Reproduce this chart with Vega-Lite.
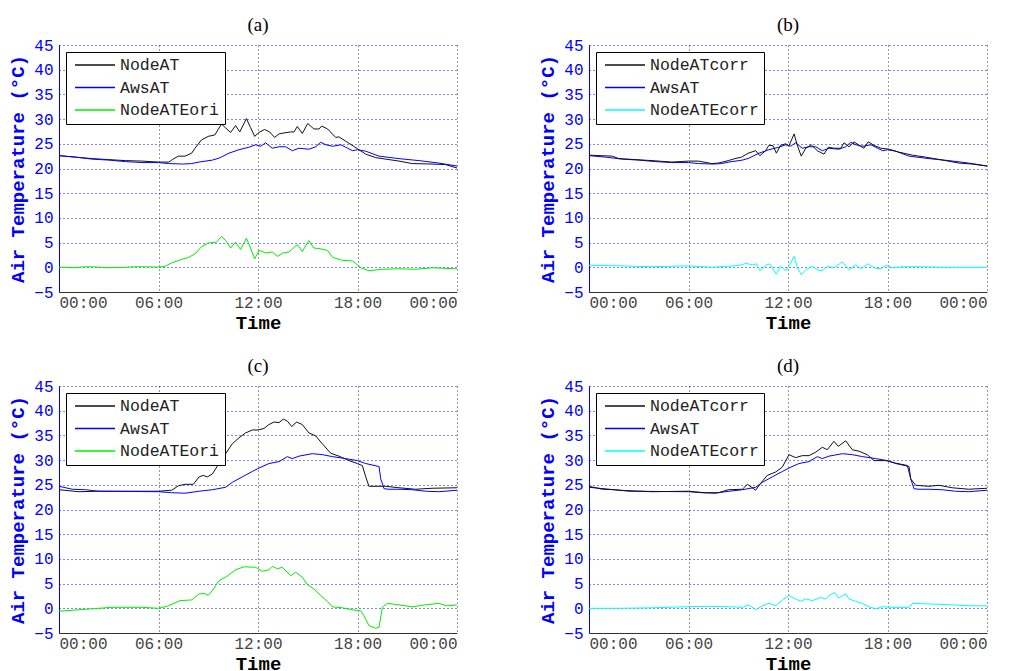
{
"$schema": "https://vega.github.io/schema/vega-lite/v6.json",
"padding": {"left": 8, "top": 16, "right": 0, "bottom": 0},
"datasets": {"t": [
{"p":"a","s":"NodeAT","h":0,"v":22.6},{"p":"a","s":"NodeAT","h":1,"v":22.3},{"p":"a","s":"NodeAT","h":2,"v":22.0},{"p":"a","s":"NodeAT","h":3,"v":21.8},{"p":"a","s":"NodeAT","h":4,"v":21.6},{"p":"a","s":"NodeAT","h":5,"v":21.5},{"p":"a","s":"NodeAT","h":6,"v":21.3},{"p":"a","s":"NodeAT","h":6.63,"v":21.3},{"p":"a","s":"NodeAT","h":6.83,"v":21.8},{"p":"a","s":"NodeAT","h":7.2,"v":22.5},{"p":"a","s":"NodeAT","h":7.6,"v":22.5},{"p":"a","s":"NodeAT","h":8.0,"v":23.1},{"p":"a","s":"NodeAT","h":8.2,"v":24.1},{"p":"a","s":"NodeAT","h":8.6,"v":25.8},{"p":"a","s":"NodeAT","h":9.0,"v":26.5},{"p":"a","s":"NodeAT","h":9.4,"v":26.8},{"p":"a","s":"NodeAT","h":9.6,"v":27.9},{"p":"a","s":"NodeAT","h":9.8,"v":29.0},{"p":"a","s":"NodeAT","h":10.05,"v":28.2},{"p":"a","s":"NodeAT","h":10.35,"v":27.3},{"p":"a","s":"NodeAT","h":10.65,"v":28.7},{"p":"a","s":"NodeAT","h":10.9,"v":27.4},{"p":"a","s":"NodeAT","h":11.3,"v":30.1},{"p":"a","s":"NodeAT","h":11.55,"v":28.3},{"p":"a","s":"NodeAT","h":11.8,"v":26.5},{"p":"a","s":"NodeAT","h":12.06,"v":27.3},{"p":"a","s":"NodeAT","h":12.4,"v":27.9},{"p":"a","s":"NodeAT","h":12.7,"v":27.4},{"p":"a","s":"NodeAT","h":13.0,"v":26.3},{"p":"a","s":"NodeAT","h":13.27,"v":27.0},{"p":"a","s":"NodeAT","h":13.57,"v":27.2},{"p":"a","s":"NodeAT","h":13.97,"v":27.4},{"p":"a","s":"NodeAT","h":14.17,"v":27.4},{"p":"a","s":"NodeAT","h":14.37,"v":28.5},{"p":"a","s":"NodeAT","h":14.67,"v":27.1},{"p":"a","s":"NodeAT","h":15.0,"v":29.1},{"p":"a","s":"NodeAT","h":15.37,"v":28.0},{"p":"a","s":"NodeAT","h":15.68,"v":28.0},{"p":"a","s":"NodeAT","h":15.84,"v":28.6},{"p":"a","s":"NodeAT","h":16.2,"v":28.0},{"p":"a","s":"NodeAT","h":16.68,"v":26.3},{"p":"a","s":"NodeAT","h":16.88,"v":26.4},{"p":"a","s":"NodeAT","h":17.3,"v":25.5},{"p":"a","s":"NodeAT","h":18.0,"v":24.0},{"p":"a","s":"NodeAT","h":18.5,"v":22.9},{"p":"a","s":"NodeAT","h":19.1,"v":22.2},{"p":"a","s":"NodeAT","h":19.7,"v":21.9},{"p":"a","s":"NodeAT","h":20.5,"v":21.5},{"p":"a","s":"NodeAT","h":21.3,"v":21.0},{"p":"a","s":"NodeAT","h":22.5,"v":20.9},{"p":"a","s":"NodeAT","h":23.3,"v":20.8},{"p":"a","s":"NodeAT","h":24,"v":20.1},
{"p":"ab","s":"AwsAT","h":0,"v":22.6},{"p":"ab","s":"AwsAT","h":1,"v":22.3},{"p":"ab","s":"AwsAT","h":2,"v":21.9},{"p":"ab","s":"AwsAT","h":3,"v":21.7},{"p":"ab","s":"AwsAT","h":4,"v":21.4},{"p":"ab","s":"AwsAT","h":5,"v":21.2},{"p":"ab","s":"AwsAT","h":6,"v":21.2},{"p":"ab","s":"AwsAT","h":6.6,"v":21.0},{"p":"ab","s":"AwsAT","h":7.5,"v":20.9},{"p":"ab","s":"AwsAT","h":8.0,"v":21.0},{"p":"ab","s":"AwsAT","h":8.44,"v":21.3},{"p":"ab","s":"AwsAT","h":9.25,"v":21.7},{"p":"ab","s":"AwsAT","h":9.65,"v":22.1},{"p":"ab","s":"AwsAT","h":10.25,"v":23.1},{"p":"ab","s":"AwsAT","h":10.85,"v":23.8},{"p":"ab","s":"AwsAT","h":11.45,"v":24.3},{"p":"ab","s":"AwsAT","h":11.86,"v":24.8},{"p":"ab","s":"AwsAT","h":12.16,"v":24.5},{"p":"ab","s":"AwsAT","h":12.46,"v":25.2},{"p":"ab","s":"AwsAT","h":12.86,"v":24.1},{"p":"ab","s":"AwsAT","h":13.27,"v":24.4},{"p":"ab","s":"AwsAT","h":13.67,"v":24.4},{"p":"ab","s":"AwsAT","h":14.07,"v":23.6},{"p":"ab","s":"AwsAT","h":14.47,"v":24.1},{"p":"ab","s":"AwsAT","h":15.07,"v":23.9},{"p":"ab","s":"AwsAT","h":15.48,"v":24.4},{"p":"ab","s":"AwsAT","h":15.78,"v":25.3},{"p":"ab","s":"AwsAT","h":16.1,"v":24.8},{"p":"ab","s":"AwsAT","h":16.5,"v":24.5},{"p":"ab","s":"AwsAT","h":17.0,"v":24.8},{"p":"ab","s":"AwsAT","h":17.7,"v":23.6},{"p":"ab","s":"AwsAT","h":18.0,"v":23.8},{"p":"ab","s":"AwsAT","h":18.5,"v":23.5},{"p":"ab","s":"AwsAT","h":19.3,"v":22.5},{"p":"ab","s":"AwsAT","h":20.5,"v":22.0},{"p":"ab","s":"AwsAT","h":21.7,"v":21.6},{"p":"ab","s":"AwsAT","h":22.9,"v":21.1},{"p":"ab","s":"AwsAT","h":24,"v":20.5},
{"p":"a","s":"NodeATEori","h":0,"v":0},{"p":"a","s":"NodeATEori","h":0.5,"v":0},{"p":"a","s":"NodeATEori","h":1,"v":-0.1},{"p":"a","s":"NodeATEori","h":1.5,"v":0.1},{"p":"a","s":"NodeATEori","h":2,"v":0.1},{"p":"a","s":"NodeATEori","h":2.5,"v":0},{"p":"a","s":"NodeATEori","h":3,"v":-0.1},{"p":"a","s":"NodeATEori","h":4,"v":0},{"p":"a","s":"NodeATEori","h":4.5,"v":0.1},{"p":"a","s":"NodeATEori","h":5,"v":0.1},{"p":"a","s":"NodeATEori","h":6,"v":0.05},{"p":"a","s":"NodeATEori","h":6.4,"v":0.2},{"p":"a","s":"NodeATEori","h":6.8,"v":0.9},{"p":"a","s":"NodeATEori","h":7.3,"v":1.5},{"p":"a","s":"NodeATEori","h":7.8,"v":2.0},{"p":"a","s":"NodeATEori","h":8.2,"v":2.7},{"p":"a","s":"NodeATEori","h":8.6,"v":4.2},{"p":"a","s":"NodeATEori","h":9.0,"v":4.9},{"p":"a","s":"NodeATEori","h":9.5,"v":5.1},{"p":"a","s":"NodeATEori","h":9.8,"v":6.3},{"p":"a","s":"NodeATEori","h":10.05,"v":5.4},{"p":"a","s":"NodeATEori","h":10.35,"v":3.9},{"p":"a","s":"NodeATEori","h":10.65,"v":5.1},{"p":"a","s":"NodeATEori","h":10.95,"v":3.6},{"p":"a","s":"NodeATEori","h":11.3,"v":5.9},{"p":"a","s":"NodeATEori","h":11.55,"v":3.9},{"p":"a","s":"NodeATEori","h":11.8,"v":1.7},{"p":"a","s":"NodeATEori","h":12.06,"v":3.4},{"p":"a","s":"NodeATEori","h":12.46,"v":2.9},{"p":"a","s":"NodeATEori","h":12.86,"v":3.1},{"p":"a","s":"NodeATEori","h":13.17,"v":2.2},{"p":"a","s":"NodeATEori","h":13.5,"v":2.9},{"p":"a","s":"NodeATEori","h":13.87,"v":3.1},{"p":"a","s":"NodeATEori","h":14.37,"v":4.6},{"p":"a","s":"NodeATEori","h":14.67,"v":3.2},{"p":"a","s":"NodeATEori","h":15.07,"v":5.4},{"p":"a","s":"NodeATEori","h":15.37,"v":3.9},{"p":"a","s":"NodeATEori","h":15.68,"v":3.8},{"p":"a","s":"NodeATEori","h":16.2,"v":3.4},{"p":"a","s":"NodeATEori","h":16.5,"v":2.0},{"p":"a","s":"NodeATEori","h":17.1,"v":1.4},{"p":"a","s":"NodeATEori","h":17.7,"v":1.3},{"p":"a","s":"NodeATEori","h":18.2,"v":-0.1},{"p":"a","s":"NodeATEori","h":18.7,"v":-0.7},{"p":"a","s":"NodeATEori","h":19.5,"v":-0.4},{"p":"a","s":"NodeATEori","h":20.5,"v":-0.3},{"p":"a","s":"NodeATEori","h":21.5,"v":-0.4},{"p":"a","s":"NodeATEori","h":22.5,"v":-0.1},{"p":"a","s":"NodeATEori","h":24,"v":-0.3},
{"p":"b","s":"NodeATcorr","h":0,"v":22.7},{"p":"b","s":"NodeATcorr","h":1.4,"v":22.5},{"p":"b","s":"NodeATcorr","h":1.8,"v":22.0},{"p":"b","s":"NodeATcorr","h":3.8,"v":21.6},{"p":"b","s":"NodeATcorr","h":5.0,"v":21.3},{"p":"b","s":"NodeATcorr","h":6.0,"v":21.5},{"p":"b","s":"NodeATcorr","h":6.6,"v":21.5},{"p":"b","s":"NodeATcorr","h":7.4,"v":21.0},{"p":"b","s":"NodeATcorr","h":7.8,"v":21.1},{"p":"b","s":"NodeATcorr","h":8.4,"v":21.6},{"p":"b","s":"NodeATcorr","h":8.8,"v":22.0},{"p":"b","s":"NodeATcorr","h":9.2,"v":22.3},{"p":"b","s":"NodeATcorr","h":9.6,"v":23.1},{"p":"b","s":"NodeATcorr","h":10.05,"v":23.6},{"p":"b","s":"NodeATcorr","h":10.3,"v":22.6},{"p":"b","s":"NodeATcorr","h":10.65,"v":23.6},{"p":"b","s":"NodeATcorr","h":10.85,"v":24.7},{"p":"b","s":"NodeATcorr","h":11.1,"v":24.6},{"p":"b","s":"NodeATcorr","h":11.3,"v":23.1},{"p":"b","s":"NodeATcorr","h":11.55,"v":24.7},{"p":"b","s":"NodeATcorr","h":11.86,"v":25.0},{"p":"b","s":"NodeATcorr","h":12.06,"v":24.6},{"p":"b","s":"NodeATcorr","h":12.37,"v":27.0},{"p":"b","s":"NodeATcorr","h":12.56,"v":24.7},{"p":"b","s":"NodeATcorr","h":12.8,"v":22.5},{"p":"b","s":"NodeATcorr","h":13.07,"v":24.1},{"p":"b","s":"NodeATcorr","h":13.4,"v":24.8},{"p":"b","s":"NodeATcorr","h":13.77,"v":23.6},{"p":"b","s":"NodeATcorr","h":14.17,"v":22.9},{"p":"b","s":"NodeATcorr","h":14.43,"v":24.3},{"p":"b","s":"NodeATcorr","h":14.77,"v":24.1},{"p":"b","s":"NodeATcorr","h":15.18,"v":24.1},{"p":"b","s":"NodeATcorr","h":15.38,"v":25.2},{"p":"b","s":"NodeATcorr","h":15.68,"v":24.4},{"p":"b","s":"NodeATcorr","h":15.98,"v":25.4},{"p":"b","s":"NodeATcorr","h":16.28,"v":24.7},{"p":"b","s":"NodeATcorr","h":16.58,"v":24.1},{"p":"b","s":"NodeATcorr","h":16.84,"v":25.4},{"p":"b","s":"NodeATcorr","h":17.18,"v":24.7},{"p":"b","s":"NodeATcorr","h":17.6,"v":24.1},{"p":"b","s":"NodeATcorr","h":18.1,"v":23.9},{"p":"b","s":"NodeATcorr","h":18.7,"v":23.3},{"p":"b","s":"NodeATcorr","h":19.5,"v":22.7},{"p":"b","s":"NodeATcorr","h":20.3,"v":22.3},{"p":"b","s":"NodeATcorr","h":21.5,"v":21.6},{"p":"b","s":"NodeATcorr","h":22.3,"v":21.1},{"p":"b","s":"NodeATcorr","h":23.1,"v":20.9},{"p":"b","s":"NodeATcorr","h":24,"v":20.5},
{"p":"b","s":"NodeATEcorr","h":0,"v":0.4},{"p":"b","s":"NodeATEcorr","h":1.8,"v":0.3},{"p":"b","s":"NodeATEcorr","h":3.8,"v":0.1},{"p":"b","s":"NodeATEcorr","h":5.8,"v":0.3},{"p":"b","s":"NodeATEcorr","h":7.0,"v":0.1},{"p":"b","s":"NodeATEcorr","h":7.4,"v":0},{"p":"b","s":"NodeATEcorr","h":8.2,"v":0.2},{"p":"b","s":"NodeATEcorr","h":8.8,"v":0.3},{"p":"b","s":"NodeATEcorr","h":9.2,"v":0.5},{"p":"b","s":"NodeATEcorr","h":9.45,"v":0.8},{"p":"b","s":"NodeATEcorr","h":9.85,"v":0.5},{"p":"b","s":"NodeATEcorr","h":10.1,"v":0.7},{"p":"b","s":"NodeATEcorr","h":10.3,"v":-0.7},{"p":"b","s":"NodeATEcorr","h":10.65,"v":0.4},{"p":"b","s":"NodeATEcorr","h":10.9,"v":0.7},{"p":"b","s":"NodeATEcorr","h":11.05,"v":-0.1},{"p":"b","s":"NodeATEcorr","h":11.3,"v":-1.4},{"p":"b","s":"NodeATEcorr","h":11.55,"v":0.2},{"p":"b","s":"NodeATEcorr","h":11.86,"v":-0.7},{"p":"b","s":"NodeATEcorr","h":12.1,"v":0.5},{"p":"b","s":"NodeATEcorr","h":12.37,"v":2.2},{"p":"b","s":"NodeATEcorr","h":12.56,"v":-0.1},{"p":"b","s":"NodeATEcorr","h":12.8,"v":-1.5},{"p":"b","s":"NodeATEcorr","h":13.07,"v":-0.5},{"p":"b","s":"NodeATEcorr","h":13.47,"v":0.2},{"p":"b","s":"NodeATEcorr","h":13.77,"v":-0.5},{"p":"b","s":"NodeATEcorr","h":14.07,"v":-0.7},{"p":"b","s":"NodeATEcorr","h":14.37,"v":0.2},{"p":"b","s":"NodeATEcorr","h":14.77,"v":-0.1},{"p":"b","s":"NodeATEcorr","h":15.28,"v":1.1},{"p":"b","s":"NodeATEcorr","h":15.68,"v":-0.5},{"p":"b","s":"NodeATEcorr","h":16.08,"v":0.5},{"p":"b","s":"NodeATEcorr","h":16.38,"v":-0.3},{"p":"b","s":"NodeATEcorr","h":16.84,"v":0.7},{"p":"b","s":"NodeATEcorr","h":17.18,"v":-0.1},{"p":"b","s":"NodeATEcorr","h":17.6,"v":-0.3},{"p":"b","s":"NodeATEcorr","h":17.9,"v":0.4},{"p":"b","s":"NodeATEcorr","h":18.3,"v":-0.1},{"p":"b","s":"NodeATEcorr","h":18.9,"v":0.1},{"p":"b","s":"NodeATEcorr","h":19.9,"v":0.1},{"p":"b","s":"NodeATEcorr","h":20.9,"v":0.05},{"p":"b","s":"NodeATEcorr","h":21.9,"v":0},{"p":"b","s":"NodeATEcorr","h":24,"v":0},
{"p":"c","s":"NodeAT","h":0,"v":24.0},{"p":"c","s":"NodeAT","h":1.2,"v":23.6},{"p":"c","s":"NodeAT","h":2.4,"v":23.7},{"p":"c","s":"NodeAT","h":4.4,"v":23.7},{"p":"c","s":"NodeAT","h":6.0,"v":23.7},{"p":"c","s":"NodeAT","h":6.8,"v":23.9},{"p":"c","s":"NodeAT","h":7.2,"v":24.8},{"p":"c","s":"NodeAT","h":7.6,"v":25.1},{"p":"c","s":"NodeAT","h":8.1,"v":25.1},{"p":"c","s":"NodeAT","h":8.45,"v":26.6},{"p":"c","s":"NodeAT","h":8.7,"v":26.9},{"p":"c","s":"NodeAT","h":8.95,"v":26.6},{"p":"c","s":"NodeAT","h":9.25,"v":27.2},{"p":"c","s":"NodeAT","h":9.65,"v":29.3},{"p":"c","s":"NodeAT","h":10.05,"v":31.3},{"p":"c","s":"NodeAT","h":10.45,"v":33.3},{"p":"c","s":"NodeAT","h":10.85,"v":34.5},{"p":"c","s":"NodeAT","h":11.25,"v":35.5},{"p":"c","s":"NodeAT","h":11.66,"v":36.1},{"p":"c","s":"NodeAT","h":12.0,"v":36.1},{"p":"c","s":"NodeAT","h":12.36,"v":36.4},{"p":"c","s":"NodeAT","h":12.66,"v":37.2},{"p":"c","s":"NodeAT","h":12.96,"v":37.7},{"p":"c","s":"NodeAT","h":13.27,"v":37.6},{"p":"c","s":"NodeAT","h":13.53,"v":38.3},{"p":"c","s":"NodeAT","h":13.77,"v":37.9},{"p":"c","s":"NodeAT","h":14.03,"v":36.8},{"p":"c","s":"NodeAT","h":14.33,"v":37.7},{"p":"c","s":"NodeAT","h":14.67,"v":37.2},{"p":"c","s":"NodeAT","h":15.07,"v":35.5},{"p":"c","s":"NodeAT","h":15.48,"v":34.9},{"p":"c","s":"NodeAT","h":15.88,"v":33.3},{"p":"c","s":"NodeAT","h":16.38,"v":31.4},{"p":"c","s":"NodeAT","h":16.88,"v":30.8},{"p":"c","s":"NodeAT","h":17.49,"v":29.9},{"p":"c","s":"NodeAT","h":17.99,"v":29.3},{"p":"c","s":"NodeAT","h":18.29,"v":28.9},{"p":"c","s":"NodeAT","h":18.5,"v":26.6},{"p":"c","s":"NodeAT","h":18.69,"v":24.7},{"p":"c","s":"NodeAT","h":19.3,"v":24.7},{"p":"c","s":"NodeAT","h":19.7,"v":24.7},{"p":"c","s":"NodeAT","h":20.5,"v":24.4},{"p":"c","s":"NodeAT","h":21.5,"v":24.1},{"p":"c","s":"NodeAT","h":22.5,"v":24.3},{"p":"c","s":"NodeAT","h":24,"v":24.4},
{"p":"cd","s":"AwsAT","h":0,"v":24.7},{"p":"cd","s":"AwsAT","h":0.8,"v":24.1},{"p":"cd","s":"AwsAT","h":1.6,"v":24.0},{"p":"cd","s":"AwsAT","h":2.4,"v":23.7},{"p":"cd","s":"AwsAT","h":6.0,"v":23.6},{"p":"cd","s":"AwsAT","h":6.8,"v":23.4},{"p":"cd","s":"AwsAT","h":7.6,"v":23.3},{"p":"cd","s":"AwsAT","h":8.45,"v":23.7},{"p":"cd","s":"AwsAT","h":9.25,"v":24.0},{"p":"cd","s":"AwsAT","h":10.05,"v":24.5},{"p":"cd","s":"AwsAT","h":10.45,"v":25.5},{"p":"cd","s":"AwsAT","h":11.05,"v":26.6},{"p":"cd","s":"AwsAT","h":11.66,"v":27.7},{"p":"cd","s":"AwsAT","h":12.06,"v":28.4},{"p":"cd","s":"AwsAT","h":12.66,"v":29.3},{"p":"cd","s":"AwsAT","h":13.27,"v":29.7},{"p":"cd","s":"AwsAT","h":13.77,"v":30.7},{"p":"cd","s":"AwsAT","h":14.07,"v":30.3},{"p":"cd","s":"AwsAT","h":14.47,"v":30.8},{"p":"cd","s":"AwsAT","h":15.28,"v":31.3},{"p":"cd","s":"AwsAT","h":15.88,"v":31.1},{"p":"cd","s":"AwsAT","h":16.5,"v":30.7},{"p":"cd","s":"AwsAT","h":17.29,"v":30.3},{"p":"cd","s":"AwsAT","h":17.99,"v":29.9},{"p":"cd","s":"AwsAT","h":18.5,"v":29.3},{"p":"cd","s":"AwsAT","h":19.3,"v":28.7},{"p":"cd","s":"AwsAT","h":19.4,"v":26.2},{"p":"cd","s":"AwsAT","h":19.6,"v":24.2},{"p":"cd","s":"AwsAT","h":19.9,"v":24.1},{"p":"cd","s":"AwsAT","h":20.5,"v":24.1},{"p":"cd","s":"AwsAT","h":21.3,"v":24.0},{"p":"cd","s":"AwsAT","h":22.1,"v":23.7},{"p":"cd","s":"AwsAT","h":22.9,"v":23.6},{"p":"cd","s":"AwsAT","h":24,"v":23.9},
{"p":"c","s":"NodeATEori","h":0,"v":-0.6},{"p":"c","s":"NodeATEori","h":1.6,"v":-0.2},{"p":"c","s":"NodeATEori","h":3.2,"v":0.2},{"p":"c","s":"NodeATEori","h":5.0,"v":0.2},{"p":"c","s":"NodeATEori","h":6.0,"v":0},{"p":"c","s":"NodeATEori","h":6.6,"v":0.5},{"p":"c","s":"NodeATEori","h":7.3,"v":1.55},{"p":"c","s":"NodeATEori","h":8.0,"v":1.7},{"p":"c","s":"NodeATEori","h":8.45,"v":2.9},{"p":"c","s":"NodeATEori","h":8.75,"v":3.0},{"p":"c","s":"NodeATEori","h":9.0,"v":2.6},{"p":"c","s":"NodeATEori","h":9.25,"v":3.6},{"p":"c","s":"NodeATEori","h":9.65,"v":5.6},{"p":"c","s":"NodeATEori","h":10.05,"v":6.3},{"p":"c","s":"NodeATEori","h":10.65,"v":7.8},{"p":"c","s":"NodeATEori","h":11.15,"v":8.4},{"p":"c","s":"NodeATEori","h":11.86,"v":8.3},{"p":"c","s":"NodeATEori","h":12.26,"v":7.5},{"p":"c","s":"NodeATEori","h":12.66,"v":7.8},{"p":"c","s":"NodeATEori","h":12.86,"v":8.5},{"p":"c","s":"NodeATEori","h":13.17,"v":8.0},{"p":"c","s":"NodeATEori","h":13.47,"v":8.3},{"p":"c","s":"NodeATEori","h":13.97,"v":6.6},{"p":"c","s":"NodeATEori","h":14.27,"v":7.3},{"p":"c","s":"NodeATEori","h":14.67,"v":6.3},{"p":"c","s":"NodeATEori","h":14.97,"v":4.8},{"p":"c","s":"NodeATEori","h":15.38,"v":3.9},{"p":"c","s":"NodeATEori","h":15.78,"v":2.6},{"p":"c","s":"NodeATEori","h":16.18,"v":1.4},{"p":"c","s":"NodeATEori","h":16.48,"v":0.3},{"p":"c","s":"NodeATEori","h":17.08,"v":0.1},{"p":"c","s":"NodeATEori","h":17.69,"v":-0.3},{"p":"c","s":"NodeATEori","h":18.19,"v":-0.5},{"p":"c","s":"NodeATEori","h":18.39,"v":-1.5},{"p":"c","s":"NodeATEori","h":18.69,"v":-3.5},{"p":"c","s":"NodeATEori","h":19.1,"v":-4.05},{"p":"c","s":"NodeATEori","h":19.3,"v":-3.85},{"p":"c","s":"NodeATEori","h":19.5,"v":0.2},{"p":"c","s":"NodeATEori","h":19.8,"v":1.0},{"p":"c","s":"NodeATEori","h":20.5,"v":0.7},{"p":"c","s":"NodeATEori","h":21.3,"v":0.3},{"p":"c","s":"NodeATEori","h":22.1,"v":0.7},{"p":"c","s":"NodeATEori","h":22.9,"v":1.0},{"p":"c","s":"NodeATEori","h":23.4,"v":0.5},{"p":"c","s":"NodeATEori","h":24,"v":0.7},
{"p":"d","s":"NodeATcorr","h":0,"v":24.5},{"p":"d","s":"NodeATcorr","h":1.8,"v":23.9},{"p":"d","s":"NodeATcorr","h":3.8,"v":23.6},{"p":"d","s":"NodeATcorr","h":6.0,"v":23.7},{"p":"d","s":"NodeATcorr","h":7.0,"v":23.4},{"p":"d","s":"NodeATcorr","h":7.8,"v":23.4},{"p":"d","s":"NodeATcorr","h":8.4,"v":24.0},{"p":"d","s":"NodeATcorr","h":9.25,"v":24.1},{"p":"d","s":"NodeATcorr","h":9.55,"v":25.1},{"p":"d","s":"NodeATcorr","h":9.8,"v":24.5},{"p":"d","s":"NodeATcorr","h":10.05,"v":23.9},{"p":"d","s":"NodeATcorr","h":10.35,"v":25.3},{"p":"d","s":"NodeATcorr","h":10.75,"v":26.9},{"p":"d","s":"NodeATcorr","h":11.26,"v":27.6},{"p":"d","s":"NodeATcorr","h":11.66,"v":28.6},{"p":"d","s":"NodeATcorr","h":12.06,"v":31.1},{"p":"d","s":"NodeATcorr","h":12.46,"v":30.5},{"p":"d","s":"NodeATcorr","h":12.86,"v":30.9},{"p":"d","s":"NodeATcorr","h":13.27,"v":30.9},{"p":"d","s":"NodeATcorr","h":13.67,"v":31.6},{"p":"d","s":"NodeATcorr","h":14.07,"v":32.6},{"p":"d","s":"NodeATcorr","h":14.37,"v":32.1},{"p":"d","s":"NodeATcorr","h":14.77,"v":33.8},{"p":"d","s":"NodeATcorr","h":15.03,"v":32.8},{"p":"d","s":"NodeATcorr","h":15.48,"v":33.9},{"p":"d","s":"NodeATcorr","h":15.88,"v":32.1},{"p":"d","s":"NodeATcorr","h":16.28,"v":31.8},{"p":"d","s":"NodeATcorr","h":16.78,"v":31.1},{"p":"d","s":"NodeATcorr","h":17.19,"v":29.9},{"p":"d","s":"NodeATcorr","h":17.89,"v":29.9},{"p":"d","s":"NodeATcorr","h":18.49,"v":29.4},{"p":"d","s":"NodeATcorr","h":19.2,"v":28.9},{"p":"d","s":"NodeATcorr","h":19.4,"v":26.2},{"p":"d","s":"NodeATcorr","h":19.7,"v":24.9},{"p":"d","s":"NodeATcorr","h":20.5,"v":24.7},{"p":"d","s":"NodeATcorr","h":21.1,"v":24.9},{"p":"d","s":"NodeATcorr","h":21.9,"v":24.4},{"p":"d","s":"NodeATcorr","h":22.9,"v":24.1},{"p":"d","s":"NodeATcorr","h":24,"v":24.3},
{"p":"d","s":"NodeATEcorr","h":0,"v":0},{"p":"d","s":"NodeATEcorr","h":1.8,"v":0},{"p":"d","s":"NodeATEcorr","h":3.8,"v":0.1},{"p":"d","s":"NodeATEcorr","h":5.8,"v":0.3},{"p":"d","s":"NodeATEcorr","h":7.0,"v":0.4},{"p":"d","s":"NodeATEcorr","h":8.6,"v":0.3},{"p":"d","s":"NodeATEcorr","h":9.25,"v":0.2},{"p":"d","s":"NodeATEcorr","h":9.65,"v":0.7},{"p":"d","s":"NodeATEcorr","h":10.05,"v":-0.3},{"p":"d","s":"NodeATEcorr","h":10.45,"v":0.5},{"p":"d","s":"NodeATEcorr","h":10.85,"v":1.0},{"p":"d","s":"NodeATEcorr","h":11.26,"v":0.5},{"p":"d","s":"NodeATEcorr","h":11.66,"v":1.7},{"p":"d","s":"NodeATEcorr","h":12.06,"v":2.6},{"p":"d","s":"NodeATEcorr","h":12.46,"v":1.9},{"p":"d","s":"NodeATEcorr","h":12.76,"v":1.4},{"p":"d","s":"NodeATEcorr","h":13.07,"v":1.9},{"p":"d","s":"NodeATEcorr","h":13.47,"v":1.55},{"p":"d","s":"NodeATEcorr","h":13.97,"v":2.2},{"p":"d","s":"NodeATEcorr","h":14.27,"v":1.9},{"p":"d","s":"NodeATEcorr","h":14.57,"v":2.8},{"p":"d","s":"NodeATEcorr","h":14.83,"v":3.2},{"p":"d","s":"NodeATEcorr","h":15.03,"v":2.1},{"p":"d","s":"NodeATEcorr","h":15.48,"v":2.9},{"p":"d","s":"NodeATEcorr","h":15.68,"v":1.9},{"p":"d","s":"NodeATEcorr","h":16.08,"v":1.4},{"p":"d","s":"NodeATEcorr","h":16.48,"v":1.0},{"p":"d","s":"NodeATEcorr","h":16.88,"v":0.3},{"p":"d","s":"NodeATEcorr","h":17.29,"v":-0.1},{"p":"d","s":"NodeATEcorr","h":17.69,"v":0.3},{"p":"d","s":"NodeATEcorr","h":18.29,"v":0.2},{"p":"d","s":"NodeATEcorr","h":19.3,"v":0.2},{"p":"d","s":"NodeATEcorr","h":19.5,"v":1.0},{"p":"d","s":"NodeATEcorr","h":20.3,"v":0.9},{"p":"d","s":"NodeATEcorr","h":21.9,"v":0.7},{"p":"d","s":"NodeATEcorr","h":22.9,"v":0.5},{"p":"d","s":"NodeATEcorr","h":24,"v":0.5}
]},
"columns": 2,
"spacing": {"row": 94, "column": 132},
"bounds": "flush",
"resolve": {"scale": {"color": "shared"}, "legend": {"color": "independent"}},
"concat": [
{"title": "(a)", "width": 398, "height": 247, "data": {"name": "t"},
 "transform": [{"filter": "indexof(datum.p, 'a') >= 0"}],
 "mark": {"type": "line", "strokeWidth": 1},
 "encoding": {
  "x": {"field": "h", "type": "quantitative", "title": "Time", "scale": {"domain": [0, 24], "nice": false}, "axis": {"values": [0, 6, 12, 18, 24], "labelExpr": "(datum.value % 24 < 10 ? '0' : '') + (datum.value % 24) + ':00'"}},
  "y": {"field": "v", "type": "quantitative", "title": "Air Temperature (°C)", "scale": {"domain": [-5, 45], "nice": false, "zero": false}, "axis": {"values": [-5, 0, 5, 10, 15, 20, 25, 30, 35, 40, 45]}},
  "color": {"field": "s", "type": "nominal", "scale": {"domain": ["NodeAT", "NodeATcorr", "AwsAT", "NodeATEori", "NodeATEcorr"], "range": ["#111111", "#111111", "#0000ff", "#00ee00", "#00ffff"]}, "legend": {"title": null, "values": ["NodeAT", "AwsAT", "NodeATEori"]}}
 }},
{"title": "(b)", "width": 398, "height": 247, "data": {"name": "t"},
 "transform": [{"filter": "indexof(datum.p, 'b') >= 0"}],
 "mark": {"type": "line", "strokeWidth": 1},
 "encoding": {
  "x": {"field": "h", "type": "quantitative", "title": "Time", "scale": {"domain": [0, 24], "nice": false}, "axis": {"values": [0, 6, 12, 18, 24], "labelExpr": "(datum.value % 24 < 10 ? '0' : '') + (datum.value % 24) + ':00'"}},
  "y": {"field": "v", "type": "quantitative", "title": "Air Temperature (°C)", "scale": {"domain": [-5, 45], "nice": false, "zero": false}, "axis": {"values": [-5, 0, 5, 10, 15, 20, 25, 30, 35, 40, 45]}},
  "color": {"field": "s", "type": "nominal", "legend": {"title": null, "values": ["NodeATcorr", "AwsAT", "NodeATEcorr"]}}
 }},
{"title": "(c)", "width": 398, "height": 247, "data": {"name": "t"},
 "transform": [{"filter": "indexof(datum.p, 'c') >= 0"}],
 "mark": {"type": "line", "strokeWidth": 1},
 "encoding": {
  "x": {"field": "h", "type": "quantitative", "title": "Time", "scale": {"domain": [0, 24], "nice": false}, "axis": {"values": [0, 6, 12, 18, 24], "labelExpr": "(datum.value % 24 < 10 ? '0' : '') + (datum.value % 24) + ':00'"}},
  "y": {"field": "v", "type": "quantitative", "title": "Air Temperature (°C)", "scale": {"domain": [-5, 45], "nice": false, "zero": false}, "axis": {"values": [-5, 0, 5, 10, 15, 20, 25, 30, 35, 40, 45]}},
  "color": {"field": "s", "type": "nominal", "legend": {"title": null, "values": ["NodeAT", "AwsAT", "NodeATEori"]}}
 }},
{"title": "(d)", "width": 398, "height": 247, "data": {"name": "t"},
 "transform": [{"filter": "indexof(datum.p, 'd') >= 0"}],
 "mark": {"type": "line", "strokeWidth": 1},
 "encoding": {
  "x": {"field": "h", "type": "quantitative", "title": "Time", "scale": {"domain": [0, 24], "nice": false}, "axis": {"values": [0, 6, 12, 18, 24], "labelExpr": "(datum.value % 24 < 10 ? '0' : '') + (datum.value % 24) + ':00'"}},
  "y": {"field": "v", "type": "quantitative", "title": "Air Temperature (°C)", "scale": {"domain": [-5, 45], "nice": false, "zero": false}, "axis": {"values": [-5, 0, 5, 10, 15, 20, 25, 30, 35, 40, 45]}},
  "color": {"field": "s", "type": "nominal", "legend": {"title": null, "values": ["NodeATcorr", "AwsAT", "NodeATEcorr"]}}
 }}
],
"config": {
 "view": {"stroke": null},
 "background": "#ffffff",
 "title": {"font": "Liberation Serif", "fontSize": 19, "fontWeight": "normal", "color": "#000000", "offset": 2, "anchor": "middle"},
 "axis": {"labelFont": "Liberation Mono", "labelFontSize": 16, "titleFont": "Liberation Mono", "titleFontSize": 19, "titleFontWeight": "bold", "ticks": false, "grid": true, "gridDash": [1, 3], "gridWidth": 1, "gridOpacity": 1, "domainWidth": 1, "labelOverlap": false},
 "axisX": {"labelColor": "#444444", "domainColor": "#333333", "gridColor": "#333333", "titleColor": "#000000", "labelPadding": 2, "titlePadding": 3},
 "axisY": {"labelColor": "#0000ff", "domainColor": "#0000ff", "gridColor": "#0000ff", "titleColor": "#0000ff", "labelPadding": 6, "titlePadding": 6},
 "legend": {"orient": "top-left", "offset": 7, "padding": 5, "zindex": 1, "strokeColor": "#000000", "fillColor": "#ffffff", "cornerRadius": 0, "symbolType": "stroke", "symbolSize": 1600, "symbolStrokeWidth": 1.5, "symbolOffset": 3, "clipHeight": 16, "labelFont": "Liberation Mono", "labelFontSize": 16.5, "labelColor": "#222222", "rowPadding": 5.5, "labelOffset": 4}
}
}
